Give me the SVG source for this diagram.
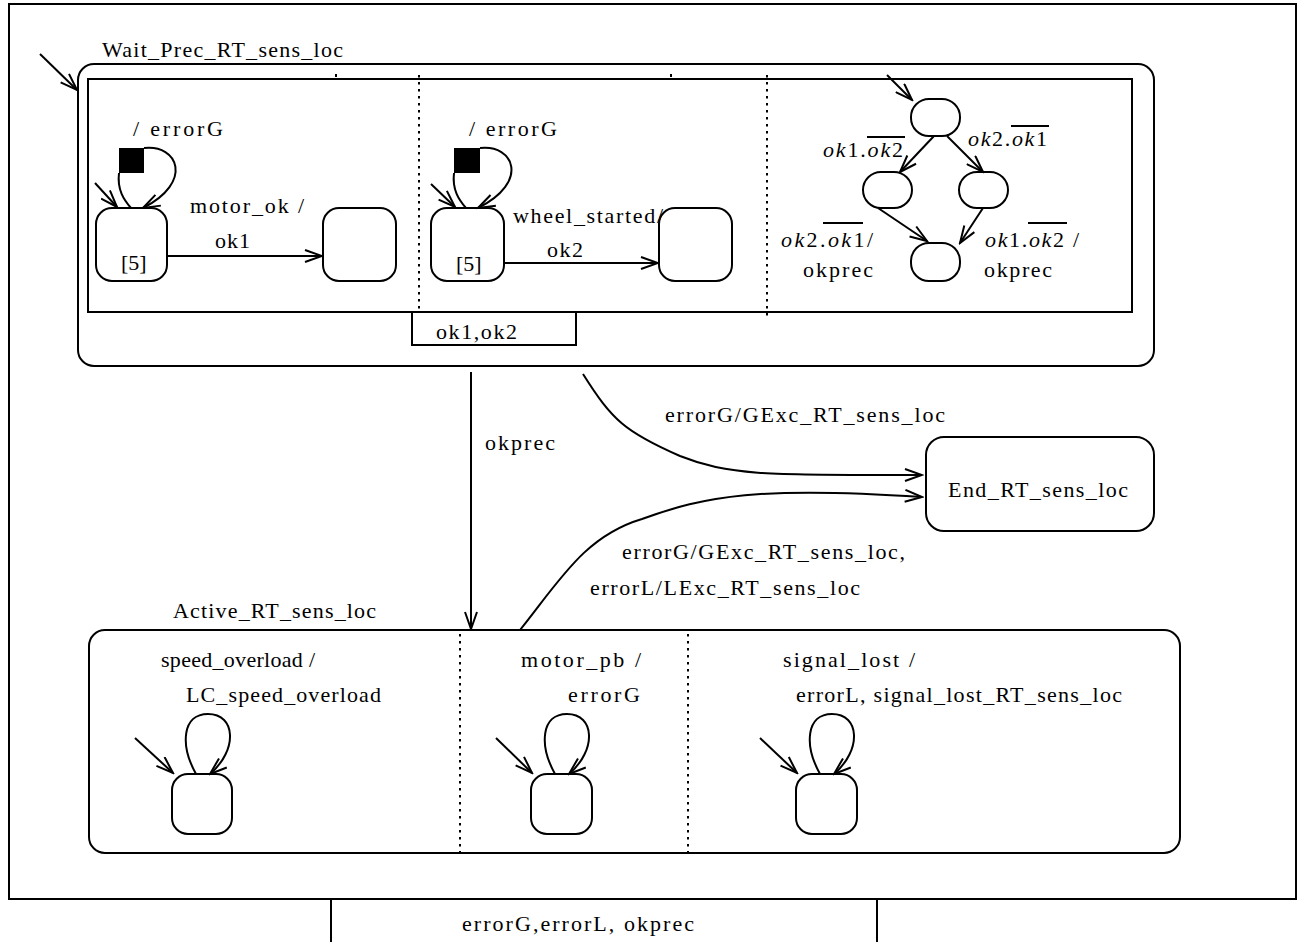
<svg xmlns="http://www.w3.org/2000/svg" width="1303" height="942" viewBox="0 0 1303 942">
<style>
.s{fill:none;stroke:#000;stroke-width:2}
.st{fill:#fff;stroke:#000;stroke-width:2}
.d{fill:none;stroke:#000;stroke-width:2;stroke-dasharray:2.5,4.5}
.t{font-family:"Liberation Serif","Times New Roman",serif;font-size:22px;fill:#000}
.i{font-style:italic}
.ol{stroke:#000;stroke-width:2}
</style>
<defs>
<marker id="ah" markerWidth="20" markerHeight="14" refX="18" refY="7" orient="auto" markerUnits="userSpaceOnUse">
<path d="M1,1 L18,7 L1,13" fill="none" stroke="#000" stroke-width="2"/>
</marker>
</defs>
<rect width="1303" height="942" fill="#fff"/>

<g id="frame">
<rect x="9" y="4" width="1287" height="895" class="s"/>
<path d="M331,899 L331,942 M877,899 L877,942" class="s"/>
<text x="462" y="931" class="t" textLength="232" lengthAdjust="spacing">errorG,errorL, okprec</text>
</g>

<g id="Wait_Prec_RT_sens_loc">
<text x="102" y="57" class="t" textLength="241" lengthAdjust="spacing">Wait_Prec_RT_sens_loc</text>
<rect x="78" y="64" width="1076" height="302" rx="16" class="s"/>
<rect x="88" y="79" width="1044" height="233" class="s"/>
<path d="M419,75 L419,320 M767,75 L767,320" class="d"/>
<path d="M336,74 L336,77 M671,74 L671,77" class="s" stroke-width="1.5"/>
</g>

<g id="ok1ok2_box">
<rect x="412" y="312" width="164" height="33" class="st"/>
<text x="436" y="339" class="t" textLength="81" lengthAdjust="spacing">ok1,ok2</text>
</g>

<g id="motor_region">
<rect x="119" y="148" width="25" height="25" fill="#000"/>
<rect x="96" y="208" width="71" height="73" rx="16" class="s"/>
<text x="121" y="270" class="t">[5]</text>
<rect x="323" y="208" width="73" height="73" rx="16" class="s"/>
<text x="133" y="136" class="t" textLength="90" lengthAdjust="spacing">/ errorG</text>
<text x="190" y="213" class="t" textLength="114" lengthAdjust="spacing">motor_ok /</text>
<text x="215" y="248" class="t" textLength="35" lengthAdjust="spacing">ok1</text>
</g>

<g id="wheel_region">
<rect x="454" y="148" width="26" height="25" fill="#000"/>
<rect x="431" y="208" width="73" height="73" rx="16" class="s"/>
<text x="456" y="271" class="t">[5]</text>
<rect x="659" y="208" width="73" height="73" rx="16" class="s"/>
<text x="469" y="136" class="t" textLength="88" lengthAdjust="spacing">/ errorG</text>
<text x="513" y="223" class="t" textLength="150" lengthAdjust="spacing">wheel_started/</text>
<text x="547" y="257" class="t" textLength="36" lengthAdjust="spacing">ok2</text>
</g>

<g id="sync_region">
<rect x="911" y="99" width="49" height="37" rx="18" class="s"/>
<rect x="863" y="172" width="49" height="36" rx="18" class="s"/>
<rect x="959" y="172" width="49" height="36" rx="18" class="s"/>
<rect x="911" y="243" width="49" height="38" rx="18" class="s"/>
<text x="823" y="157" class="t" textLength="80" lengthAdjust="spacing"><tspan class="i">ok</tspan>1.<tspan class="i">ok</tspan>2</text>
<line x1="867" y1="137" x2="905" y2="137" class="ol"/>
<text x="968" y="146" class="t" textLength="79" lengthAdjust="spacing"><tspan class="i">ok</tspan>2.<tspan class="i">ok</tspan>1</text>
<line x1="1011" y1="126" x2="1049" y2="126" class="ol"/>
<text x="781" y="247" class="t" textLength="92" lengthAdjust="spacing"><tspan class="i">ok</tspan>2.<tspan class="i">ok</tspan>1/</text>
<line x1="823" y1="223" x2="863" y2="223" class="ol"/>
<text x="803" y="277" class="t" textLength="70" lengthAdjust="spacing">okprec</text>
<text x="985" y="247" class="t" textLength="94" lengthAdjust="spacing"><tspan class="i">ok</tspan>1.<tspan class="i">ok</tspan>2 /</text>
<line x1="1028" y1="223" x2="1067" y2="223" class="ol"/>
<text x="984" y="277" class="t" textLength="68" lengthAdjust="spacing">okprec</text>
</g>

<g id="End_RT_sens_loc">
<rect x="926" y="437" width="228" height="94" rx="18" class="s"/>
<text x="948" y="497" class="t" textLength="180" lengthAdjust="spacing">End_RT_sens_loc</text>
</g>

<g id="Active_RT_sens_loc">
<text x="173" y="618" class="t" textLength="203" lengthAdjust="spacing">Active_RT_sens_loc</text>
<rect x="89" y="630" width="1091" height="223" rx="16" class="s"/>
<path d="M460,634 L460,853 M688,634 L688,853" class="d"/>
<rect x="172" y="774" width="60" height="60" rx="16" class="s"/>
<rect x="531" y="774" width="61" height="60" rx="16" class="s"/>
<rect x="796" y="774" width="61" height="60" rx="16" class="s"/>
<text x="161" y="667" class="t" textLength="154" lengthAdjust="spacing">speed_overload /</text>
<text x="186" y="702" class="t" textLength="195" lengthAdjust="spacing">LC_speed_overload</text>
<text x="521" y="667" class="t" textLength="120" lengthAdjust="spacing">motor_pb /</text>
<text x="568" y="702" class="t" textLength="72" lengthAdjust="spacing">errorG</text>
<text x="783" y="667" class="t" textLength="132" lengthAdjust="spacing">signal_lost /</text>
<text x="796" y="702" class="t" textLength="326" lengthAdjust="spacing">errorL, signal_lost_RT_sens_loc</text>
</g>

<g id="connectors">
<path d="M40,54 L77,90" class="s" marker-end="url(#ah)"/>
<path d="M95,183 L117,207" class="s" marker-end="url(#ah)"/>
<path d="M119,173 C117,190 124,200 131,208" class="s"/>
<path d="M144,148 C178,144 194,182 143,208" class="s" marker-end="url(#ah)"/>
<path d="M167,256 L322,256" class="s" marker-end="url(#ah)"/>
<path d="M431,184 L455,207" class="s" marker-end="url(#ah)"/>
<path d="M454,173 C452,190 459,200 466,208" class="s"/>
<path d="M480,148 C514,144 530,182 478,208" class="s" marker-end="url(#ah)"/>
<path d="M504,263 L658,263" class="s" marker-end="url(#ah)"/>
<path d="M887,75 L912,100" class="s" marker-end="url(#ah)"/>
<path d="M934,136 L900,172" class="s" marker-end="url(#ah)"/>
<path d="M947,136 L983,172" class="s" marker-end="url(#ah)"/>
<path d="M878,208 L927,241" class="s" marker-end="url(#ah)"/>
<path d="M983,208 L960,243" class="s" marker-end="url(#ah)"/>
<path d="M471,372 L471,629" class="s" marker-end="url(#ah)"/>
<text x="485" y="450" class="t" textLength="70" lengthAdjust="spacing">okprec</text>
<path d="M583,374 C612,420 625,432 680,456 C730,476 770,475 922,475" class="s" marker-end="url(#ah)"/>
<text x="665" y="422" class="t" textLength="280" lengthAdjust="spacing">errorG/GExc_RT_sens_loc</text>
<path d="M520,630 C560,580 585,536 642,519 C705,496 760,486 922,497" class="s" marker-end="url(#ah)"/>
<text x="622" y="559" class="t" textLength="283" lengthAdjust="spacing">errorG/GExc_RT_sens_loc,</text>
<text x="590" y="595" class="t" textLength="270" lengthAdjust="spacing">errorL/LExc_RT_sens_loc</text>
<path d="M135,738 L173,773" class="s" marker-end="url(#ah)"/>
<path d="M196,774 C180,745 182,714 208,714 C236,714 238,750 210,774" class="s" marker-end="url(#ah)"/>
<path d="M496,738 L532,773" class="s" marker-end="url(#ah)"/>
<path d="M555,774 C539,745 541,714 567,714 C595,714 597,750 569,774" class="s" marker-end="url(#ah)"/>
<path d="M760,738 L797,773" class="s" marker-end="url(#ah)"/>
<path d="M820,774 C804,745 806,714 832,714 C860,714 862,750 834,774" class="s" marker-end="url(#ah)"/>
</g>
</svg>
